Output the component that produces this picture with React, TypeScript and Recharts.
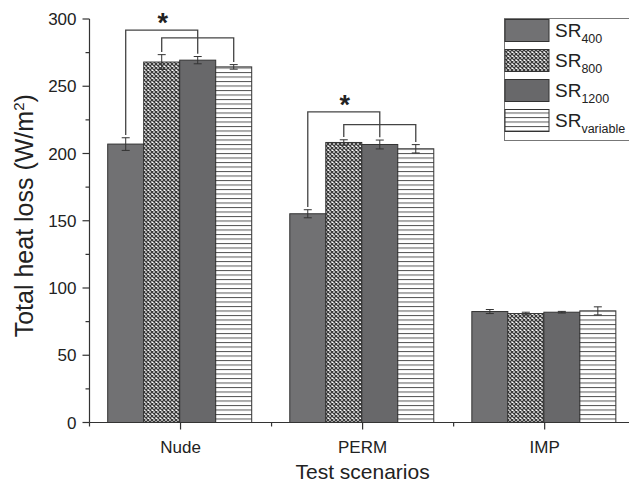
import React from 'react';
import { BarChart, Bar, XAxis, YAxis, ErrorBar, Legend } from 'recharts';

const categories = ['Nude', 'PERM', 'IMP'];
const sr400 = [207, 155.2, 82.5];
const sr400Err = [4.7, 3, 1.5];
const sr800 = [268, 208.2, 81];
const sr800Err = [5.5, 2, 1];
const sr1200 = [269.4, 206.7, 82];
const sr1200Err = [2.7, 3.3, 0.6];
const srVar = [264.4, 203.5, 83];
const srVarErr = [1.7, 3.1, 3];
const bracketOuter = [291.7, 231, null];
const bracketInner = [286, 221.5, null];
const yTicks = [0, 25, 50, 75, 100, 125, 150, 175, 200, 225, 250, 275, 300];
const seriesSubs = ['400', '800', '1200', 'variable'];
const seriesFills = ['#717173', 'url(#crossPat)', '#68686a', 'url(#hlPat)'];

const data = categories.map((c, i) => ({
  cat: c,
  v400: sr400[i], e400: sr400Err[i],
  v800: sr800[i], e800: sr800Err[i],
  v1200: sr1200[i], e1200: sr1200Err[i],
  vVar: srVar[i], eVar: srVarErr[i],
  bOuter: bracketOuter[i], bInner: bracketInner[i],
}));

const FONT = '"Liberation Sans", Arial, Helvetica, sans-serif';
const TXT = '#222';
const AX = '#333';

const VarShape = (p: any) => {
  const { x, y, width, height, payload, fill } = p;
  const zero = y + height;
  const ppu = height / payload.vVar;
  const py = (v: number) => zero - v * ppu;
  const cx = (k: number) => x + width / 2 - k * width;
  const gap = 2;
  const parts: any[] = [
    <rect key="r" x={x} y={y} width={width} height={height} fill={fill} stroke="#333" strokeWidth={1} />,
  ];
  if (payload.bOuter != null && payload.bInner != null) {
    const oy = py(payload.bOuter);
    const iy = py(payload.bInner);
    const l1 = cx(3), r1 = cx(1);
    const l2 = cx(2), r2 = cx(0);
    parts.push(
      <path key="o" d={`M${l1},${py(payload.v400 + payload.e400 + gap)}V${oy}H${r1}V${py(payload.v1200 + payload.e1200 + gap)}`}
        fill="none" stroke="#444" strokeWidth={1.3} />,
      <path key="i" d={`M${l2},${py(payload.v800 + payload.e800 + gap)}V${iy}H${r2}V${py(payload.vVar + payload.eVar + gap)}`}
        fill="none" stroke="#444" strokeWidth={1.3} />,
      <text key="t" x={(l1 + r1) / 2 + 1} y={oy + 2} textAnchor="middle" fontSize={27} fontWeight="bold" fontFamily={FONT} fill={TXT}>*</text>,
    );
  }
  return <g>{parts}</g>;
};

const PlainShape = (p: any) => {
  const { x, y, width, height, fill } = p;
  return <rect x={x} y={y} width={width} height={height} fill={fill} stroke="#333" strokeWidth={1} />;
};

const YTick = (p: any) => {
  const { x, y, payload } = p;
  const major = payload.value % 50 === 0;
  return (
    <g>
      <line x1={x - (major ? 7 : 4)} y1={y} x2={x} y2={y} stroke={AX} strokeWidth={1.2} />
      {major && (
        <text x={x - 13} y={y} dy="0.36em" textAnchor="end" fontSize={17} fontFamily={FONT} fill={TXT}>{payload.value}</text>
      )}
    </g>
  );
};

const XTick = (p: any) => {
  const { x, y, payload } = p;
  const off = payload.offset ?? 91;
  return (
    <g>
      <line x1={x} y1={y} x2={x} y2={y + 7} stroke={AX} strokeWidth={1.2} />
      <line x1={x - off} y1={y} x2={x - off} y2={y + 4} stroke={AX} strokeWidth={1.2} />
      <text x={x} y={y + 30} textAnchor="middle" fontSize={17} fontFamily={FONT} fill={TXT}>{payload.value}</text>
    </g>
  );
};

const YLabel = (props: any) => {
  const vb = props.viewBox || {};
  const cx = (vb.x || 0) + 33;
  const cy = (vb.y || 0) + (vb.height || 0) / 2 - 5;
  return (
    <text x={cx} y={cy} transform={`rotate(-90 ${cx} ${cy})`} textAnchor="middle" fontSize={25} fontFamily={FONT} fill={TXT}>
      Total heat loss (W/m<tspan dy={-9} fontSize={15}>2</tspan><tspan dy={9}>)</tspan>
    </text>
  );
};

const XLabel = (props: any) => {
  const vb = props.viewBox || {};
  const cx = (vb.x || 0) + (vb.width || 0) / 2;
  return (
    <text x={cx} y={479} textAnchor="middle" fontSize={21} fontFamily={FONT} fill={TXT}>Test scenarios</text>
  );
};

const LegendContent = () => (
  <svg width={140} height={125} style={{ display: 'block', overflow: 'visible' }}>
    <rect x={0.5} y={0.5} width={200} height={122} fill="#fff" stroke="#777" strokeWidth={1} />
    {seriesSubs.map((s, i) => (
      <g key={s}>
        <rect x={1} y={1.5 + 30 * i} width={44} height={22} fill={seriesFills[i]} stroke="#333" strokeWidth={1} />
        <text x={51} y={19 + 30 * i} fontSize={19} fontFamily={FONT} fill={TXT}>
          SR<tspan dy={5.5} fontSize={12.5}>{s}</tspan>
        </text>
      </g>
    ))}
  </svg>
);

export default function App() {
  return (
    <div style={{ position: 'absolute', left: 0, top: 0, width: 629, height: 485, overflow: 'hidden', background: '#fff', fontFamily: FONT }}>
      <BarChart width={650} height={485} data={data} margin={{ top: 19, right: 14.3, bottom: 0, left: 0 }}
        barGap={0} barCategoryGap="10%">
        <defs>
          <pattern id="crossPat" width={4} height={4} patternUnits="userSpaceOnUse">
            <rect width={4} height={4} fill="#fff" />
            <path d="M0,0L4,4M4,0L0,4" stroke="#3a3a3a" strokeWidth={1.3} />
          </pattern>
          <pattern id="hlPat" width={8} height={4.5} patternUnits="userSpaceOnUse">
            <rect width={8} height={4.5} fill="#fff" />
            <line x1={0} y1={0.5} x2={8} y2={0.5} stroke="#555" strokeWidth={1} />
          </pattern>
        </defs>
        <XAxis dataKey="cat" height={62.5} tickSize={0} tickMargin={0} tick={<XTick />} axisLine={{ stroke: AX, strokeWidth: 1.2 }}
          tickLine={false} interval={0} label={{ content: XLabel }} />
        <YAxis width={89.5} domain={[0, 300]} ticks={yTicks} interval={0} tickSize={0} tickMargin={0} tick={<YTick />}
          axisLine={{ stroke: AX, strokeWidth: 1.2 }} tickLine={false} label={{ content: YLabel }} />
        <Legend layout="vertical" align="center" verticalAlign="middle"
          wrapperStyle={{ position: 'absolute', left: 504, top: 18, width: 140, height: 125 }} content={LegendContent} />
        <Bar dataKey="v400" name="SR400" fill={seriesFills[0]} shape={PlainShape} isAnimationActive={false}>
          <ErrorBar dataKey="e400" width={4} stroke="#333" strokeWidth={1} />
        </Bar>
        <Bar dataKey="v800" name="SR800" fill={seriesFills[1]} shape={PlainShape} isAnimationActive={false}>
          <ErrorBar dataKey="e800" width={4} stroke="#333" strokeWidth={1} />
        </Bar>
        <Bar dataKey="v1200" name="SR1200" fill={seriesFills[2]} shape={PlainShape} isAnimationActive={false}>
          <ErrorBar dataKey="e1200" width={4} stroke="#333" strokeWidth={1} />
        </Bar>
        <Bar dataKey="vVar" name="SRvariable" fill={seriesFills[3]} shape={VarShape} isAnimationActive={false}>
          <ErrorBar dataKey="eVar" width={4} stroke="#333" strokeWidth={1} />
        </Bar>
      </BarChart>
    </div>
  );
}
